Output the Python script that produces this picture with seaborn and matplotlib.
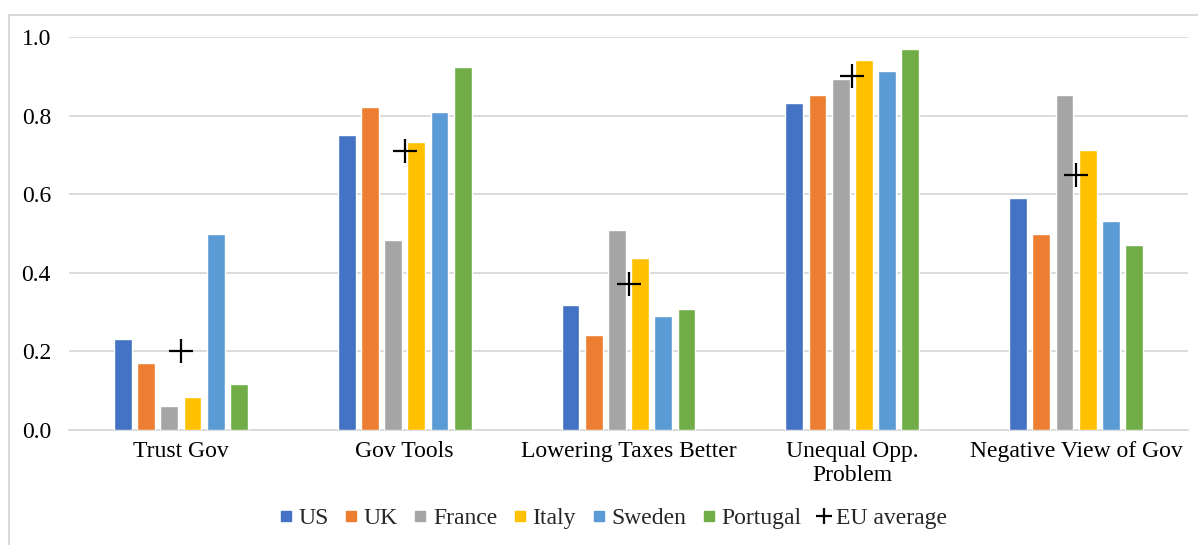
import numpy as np
import pandas as pd
import matplotlib
matplotlib.use("Agg")
import matplotlib.pyplot as plt
from matplotlib.lines import Line2D
from matplotlib.patches import Rectangle
import seaborn as sns

# Survey questions (x categories) and countries (bar series)
categories = ["Trust Gov", "Gov Tools", "Lowering Taxes Better",
              "Unequal Opp.\nProblem", "Negative View of Gov"]
countries = ["US", "UK", "France", "Italy", "Sweden", "Portugal"]

us       = [0.231, 0.750, 0.318, 0.831, 0.591]
uk       = [0.170, 0.821, 0.242, 0.853, 0.499]
france   = [0.062, 0.483, 0.510, 0.892, 0.853]
italy    = [0.084, 0.733, 0.438, 0.941, 0.712]
sweden   = [0.499, 0.809, 0.291, 0.913, 0.532]
portugal = [0.116, 0.924, 0.307, 0.969, 0.471]
eu_average = [0.201, 0.709, 0.371, 0.900, 0.650]

colors = ["#4472C4", "#ED7D31", "#A5A5A5", "#FFC000", "#5B9BD5", "#70AD47"]

series = [us, uk, france, italy, sweden, portugal]
df = pd.DataFrame({
    "question": np.tile(categories, len(countries)),
    "country": np.repeat(countries, len(categories)),
    "share": np.concatenate(series),
})

sns.set_style("white")
plt.rcParams["font.family"] = ["Liberation Serif", "DejaVu Serif"]

W, H = 1198, 545
fig = plt.figure(figsize=(W / 100, H / 100), dpi=100)
ax = fig.add_axes([69 / W, 1 - 430 / H, (1188 - 69) / W, (430 - 37) / H])

grid_c = "#D9D9D9"
sns.barplot(data=df, x="question", y="share", hue="country", order=categories,
            hue_order=countries, palette=colors, width=0.622, gap=0.24,
            saturation=1, ax=ax, legend=False, zorder=3)

xpos = np.arange(len(categories))
ax.plot(xpos, eu_average, linestyle="none", marker="+", markersize=17,
        markeredgewidth=1.6, color="black", zorder=5)

ax.set_ylim(0, 1.0)
ax.set_xlim(-0.5, len(categories) - 0.5)
ax.set_yticks(np.arange(0, 1.01, 0.2))
ax.set_yticklabels([f"{v:.1f}" for v in np.arange(0, 1.01, 0.2)])
ax.yaxis.grid(True, color=grid_c, linewidth=1.3, zorder=0)
ax.set_axisbelow(True)
ax.set_xlabel("")
ax.set_ylabel("")
for s in ["top", "right", "left"]:
    ax.spines[s].set_visible(False)
ax.spines["bottom"].set_color(grid_c)
ax.spines["bottom"].set_linewidth(1.3)
ax.tick_params(axis="both", length=0, labelsize=17, colors="black")
ax.tick_params(axis="y", pad=13)
ax.tick_params(axis="x", pad=8)
for lbl in ax.get_xticklabels():
    lbl.set_linespacing(1.15)

# Legend below the plot
handles = [Line2D([], [], linestyle="none", marker="s", markersize=6.5,
                  markerfacecolor=c, markeredgecolor=c) for c in colors]
handles.append(Line2D([], [], linestyle="none", marker="+", markersize=11,
                      markeredgewidth=1.6, color="black"))
labels = countries + ["EU average"]
fig.legend(handles, labels, loc="center", bbox_to_anchor=(613 / W, 1 - 518 / H),
           ncol=len(labels), frameon=False, fontsize=17, handlelength=0.6,
           handletextpad=0.23, columnspacing=0.66, borderaxespad=0)

# Chart frame
fig.add_artist(Rectangle((8.5 / W, -0.1), 1.2, 1.1 - 14.5 / H,
                         transform=fig.transFigure, fill=False,
                         edgecolor=grid_c, linewidth=1.5, clip_on=False))

fig.savefig("out.png", dpi=100)
